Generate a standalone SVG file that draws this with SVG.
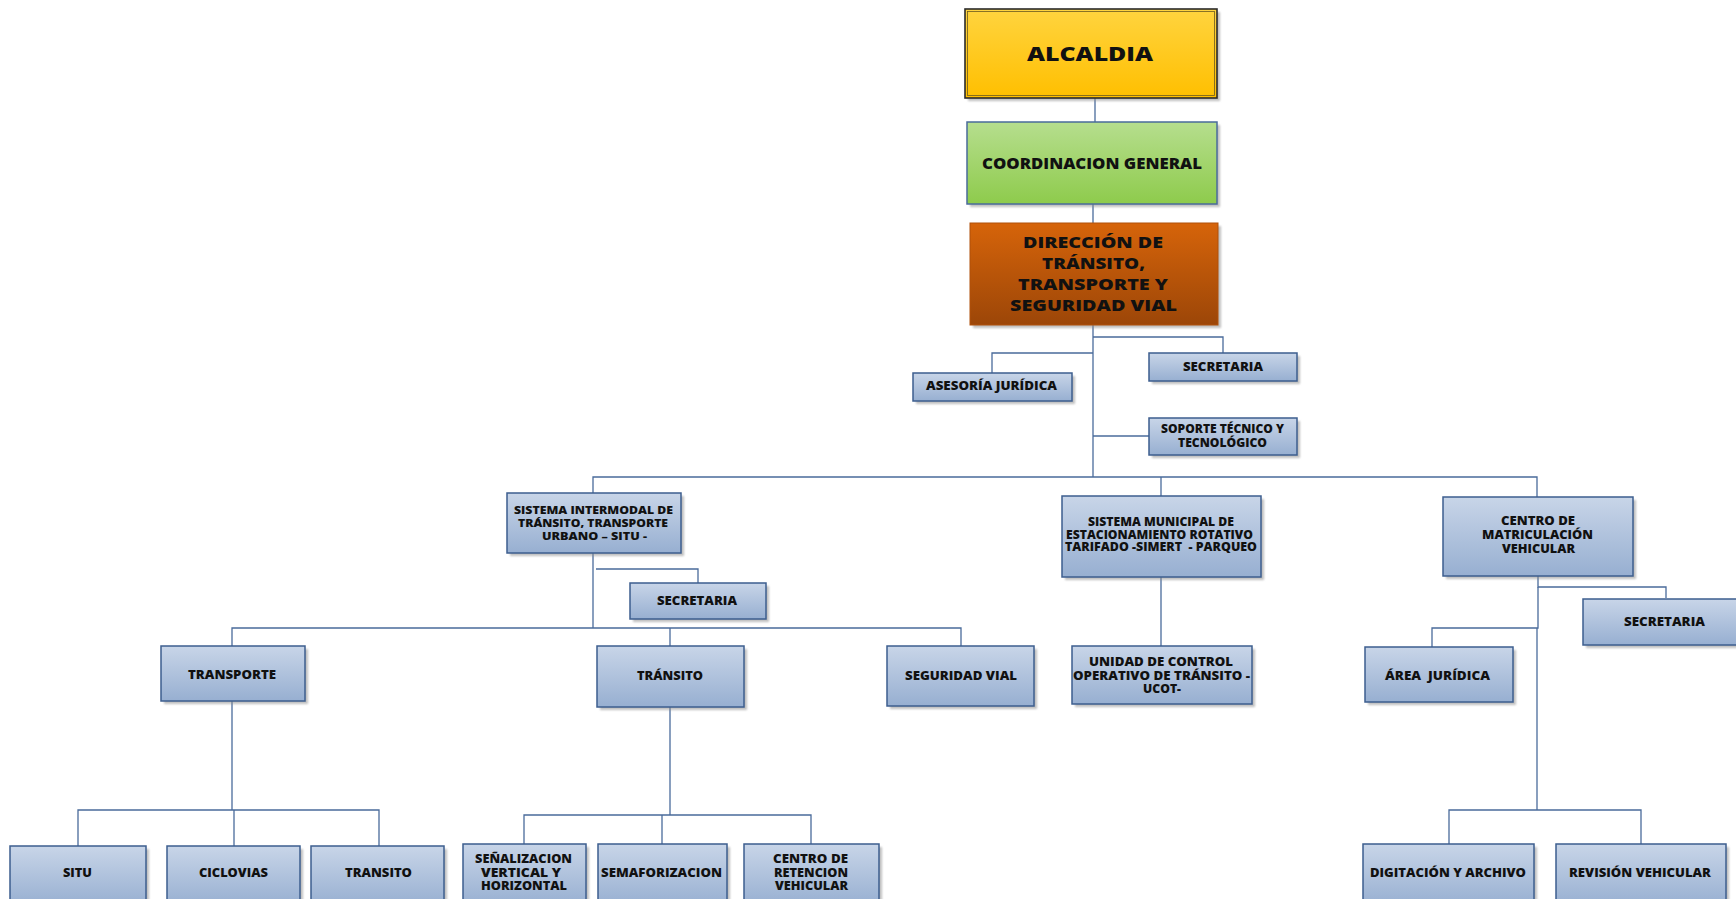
<svg xmlns="http://www.w3.org/2000/svg" width="1736" height="899" viewBox="0 0 1736 899">
  <defs>
    <linearGradient id="gBlue" x1="0" y1="0" x2="0" y2="1">
      <stop offset="0" stop-color="#c8d5e8"/>
      <stop offset="1" stop-color="#97afd1"/>
    </linearGradient>
    <linearGradient id="gGold" x1="0" y1="0" x2="0" y2="1">
      <stop offset="0" stop-color="#ffd43f"/>
      <stop offset="1" stop-color="#ffbf00"/>
    </linearGradient>
    <linearGradient id="gGreen" x1="0" y1="0" x2="0" y2="1">
      <stop offset="0" stop-color="#b6de8e"/>
      <stop offset="1" stop-color="#8ecb4c"/>
    </linearGradient>
    <linearGradient id="gRust" x1="0" y1="0" x2="0" y2="1">
      <stop offset="0" stop-color="#d6640a"/>
      <stop offset="1" stop-color="#9c4608"/>
    </linearGradient>
    <filter id="soft" x="-10%" y="-10%" width="130%" height="130%">
      <feGaussianBlur stdDeviation="1"/>
    </filter>
  </defs>
  <style>
    .shadow { fill: #8c8c8c; opacity: 0.55; filter: url(#soft); }
    .box { fill: url(#gBlue); stroke: #3d5e8e; stroke-width: 1.5; }
    .lbl { font-family: "Open Sans", "Liberation Sans", sans-serif; font-weight: 800; fill: #111; text-anchor: start; }
    .s9 { font-size: 10px; }
    .s11 { font-size: 11.5px; }
    .s12 { font-size: 12px; }
    .link { fill: none; stroke: #4a6b9b; stroke-width: 1.3; }
  </style>

  <rect width="1736" height="899" fill="#ffffff"/>

  <!-- connectors -->
  <g id="connectors" class="link">
    <path d="M1095 98 V122"/>
    <path d="M1093 204 V223"/>
    <path d="M1093 325 V477"/>
    <path d="M1093 337 H1223 V353"/>
    <path d="M1093 353 H992 V373"/>
    <path d="M1093 436 H1149"/>
    <path d="M593 493 V477 H1537 V497"/>
    <path d="M1161 477 V496"/>
    <path d="M593 553 V628"/>
    <path d="M596 569 H698 V583"/>
    <path d="M232 646 V628 H961 V646"/>
    <path d="M670 628 V646"/>
    <path d="M1161 577 V646"/>
    <path d="M1538 576 V587 H1666 V598"/>
    <path d="M1538 587 V628 H1432 V647"/>
    <path d="M1537 628 V810"/>
    <path d="M232 701 V810"/>
    <path d="M78 846 V810 H379 V846"/>
    <path d="M234 810 V846"/>
    <path d="M670 707 V815"/>
    <path d="M524 844 V815 H811 V844"/>
    <path d="M662 815 V844"/>
    <path d="M1449 844 V810 H1641 V844"/>
  </g>

  <!-- top level -->
  <g id="alcaldia">
    <rect class="shadow" x="968" y="12" width="252" height="89"/>
    <rect x="965" y="9" width="252" height="89" fill="url(#gGold)" stroke="#2b2b2b" stroke-width="1.6"/>
    <rect x="967.5" y="11.5" width="247" height="84" fill="none" stroke="#6b5a20" stroke-width="0.8"/>
    <text class="lbl" x="1027" y="60.5" font-size="20" textLength="126" lengthAdjust="spacingAndGlyphs">ALCALDIA</text>
  </g>

  <g id="coordinacion">
    <rect class="shadow" x="970" y="125" width="250" height="82"/>
    <rect x="967" y="122" width="250" height="82" fill="url(#gGreen)" stroke="#4a6b9b" stroke-width="1.5"/>
    <text class="lbl" x="982" y="168.5" font-size="16.5" textLength="220" lengthAdjust="spacingAndGlyphs">COORDINACION GENERAL</text>
  </g>

  <g id="direccion">
    <rect class="shadow" x="973" y="226" width="248" height="102"/>
    <rect x="970" y="223" width="248" height="102" fill="url(#gRust)" stroke="#b0500a" stroke-width="1"/>
    <text class="lbl" font-size="16.5">
      <tspan x="1023" y="247.5" textLength="140" lengthAdjust="spacingAndGlyphs">DIRECCIÓN DE</tspan>
      <tspan x="1042" y="269" textLength="103" lengthAdjust="spacingAndGlyphs">TRÁNSITO,</tspan>
      <tspan x="1018" y="290" textLength="150" lengthAdjust="spacingAndGlyphs">TRANSPORTE Y</tspan>
      <tspan x="1010" y="311" textLength="167" lengthAdjust="spacingAndGlyphs">SEGURIDAD VIAL</tspan>
    </text>
  </g>

  <!-- staff units -->
  <g id="asesoria">
    <rect class="shadow" x="916" y="376" width="159" height="28"/>
    <rect class="box" x="913" y="373" width="159" height="28"/>
    <text class="lbl s11" x="926" y="389.5" textLength="131" lengthAdjust="spacingAndGlyphs">ASESORÍA JURÍDICA</text>
  </g>

  <g id="secretaria-dir">
    <rect class="shadow" x="1152" y="356" width="148" height="28"/>
    <rect class="box" x="1149" y="353" width="148" height="28"/>
    <text class="lbl s11" x="1183" y="370.5" textLength="80" lengthAdjust="spacingAndGlyphs">SECRETARIA</text>
  </g>

  <g id="soporte">
    <rect class="shadow" x="1152" y="421" width="148" height="37"/>
    <rect class="box" x="1149" y="418" width="148" height="37"/>
    <text class="lbl s11">
      <tspan x="1161" y="433" textLength="123" lengthAdjust="spacingAndGlyphs">SOPORTE TÉCNICO Y</tspan>
      <tspan x="1178" y="446.5" textLength="89" lengthAdjust="spacingAndGlyphs">TECNOLÓGICO</tspan>
    </text>
  </g>

  <!-- second level -->
  <g id="situ">
    <rect class="shadow" x="510" y="496" width="174" height="60"/>
    <rect class="box" x="507" y="493" width="174" height="60"/>
    <text class="lbl s9">
      <tspan x="514" y="514" textLength="159" lengthAdjust="spacingAndGlyphs">SISTEMA INTERMODAL DE</tspan>
      <tspan x="518" y="527" textLength="150" lengthAdjust="spacingAndGlyphs">TRÁNSITO, TRANSPORTE</tspan>
      <tspan x="542" y="539.5" textLength="105" lengthAdjust="spacingAndGlyphs">URBANO – SITU -</tspan>
    </text>
  </g>

  <g id="secretaria-situ">
    <rect class="shadow" x="633" y="586" width="136" height="36"/>
    <rect class="box" x="630" y="583" width="136" height="36"/>
    <text class="lbl s11" x="657" y="604.5" textLength="80" lengthAdjust="spacingAndGlyphs">SECRETARIA</text>
  </g>

  <g id="simert">
    <rect class="shadow" x="1065" y="499" width="199" height="81"/>
    <rect class="box" x="1062" y="496" width="199" height="81"/>
    <text class="lbl s11" xml:space="preserve"><tspan x="1088" y="526" textLength="146" lengthAdjust="spacingAndGlyphs">SISTEMA MUNICIPAL DE</tspan><tspan x="1066" y="538.5" textLength="187" lengthAdjust="spacingAndGlyphs">ESTACIONAMIENTO ROTATIVO</tspan><tspan x="1065" y="551" textLength="192" lengthAdjust="spacingAndGlyphs">TARIFADO -SIMERT  - PARQUEO</tspan></text>
  </g>

  <g id="matriculacion">
    <rect class="shadow" x="1446" y="500" width="190" height="79"/>
    <rect class="box" x="1443" y="497" width="190" height="79"/>
    <text class="lbl s11">
      <tspan x="1501" y="525" textLength="74" lengthAdjust="spacingAndGlyphs">CENTRO DE</tspan>
      <tspan x="1482" y="539" textLength="111" lengthAdjust="spacingAndGlyphs">MATRICULACIÓN</tspan>
      <tspan x="1502" y="553" textLength="73" lengthAdjust="spacingAndGlyphs">VEHICULAR</tspan>
    </text>
  </g>

  <g id="secretaria-cmv">
    <rect class="shadow" x="1586" y="602" width="160" height="46"/>
    <rect class="box" x="1583" y="599" width="160" height="46"/>
    <text class="lbl s11" x="1624" y="626" textLength="81" lengthAdjust="spacingAndGlyphs">SECRETARIA</text>
  </g>

  <!-- third level -->
  <g id="transporte">
    <rect class="shadow" x="164" y="649" width="144" height="55"/>
    <rect class="box" x="161" y="646" width="144" height="55"/>
    <text class="lbl s11" x="188" y="678.5" textLength="88" lengthAdjust="spacingAndGlyphs">TRANSPORTE</text>
  </g>

  <g id="transito">
    <rect class="shadow" x="600" y="649" width="147" height="61"/>
    <rect class="box" x="597" y="646" width="147" height="61"/>
    <text class="lbl s11" x="637" y="680" textLength="66" lengthAdjust="spacingAndGlyphs">TRÁNSITO</text>
  </g>

  <g id="seguridad-vial">
    <rect class="shadow" x="890" y="649" width="147" height="60"/>
    <rect class="box" x="887" y="646" width="147" height="60"/>
    <text class="lbl s11" x="905" y="680" textLength="112" lengthAdjust="spacingAndGlyphs">SEGURIDAD VIAL</text>
  </g>

  <g id="ucot">
    <rect class="shadow" x="1075" y="649" width="180" height="58"/>
    <rect class="box" x="1072" y="646" width="180" height="58"/>
    <text class="lbl s11">
      <tspan x="1089" y="666" textLength="144" lengthAdjust="spacingAndGlyphs">UNIDAD DE CONTROL</tspan>
      <tspan x="1073" y="679.5" textLength="177" lengthAdjust="spacingAndGlyphs">OPERATIVO DE TRÁNSITO -</tspan>
      <tspan x="1143" y="693" textLength="38" lengthAdjust="spacingAndGlyphs">UCOT-</tspan>
    </text>
  </g>

  <g id="area-juridica">
    <rect class="shadow" x="1368" y="650" width="148" height="55"/>
    <rect class="box" x="1365" y="647" width="148" height="55"/>
    <text class="lbl s11" x="1385" y="679.5" textLength="105" lengthAdjust="spacingAndGlyphs" xml:space="preserve">ÁREA  JURÍDICA</text>
  </g>

  <!-- fourth level -->
  <g id="situ-op">
    <rect class="shadow" x="13" y="849" width="136" height="60"/>
    <rect class="box" x="10" y="846" width="136" height="60"/>
    <text class="lbl s12" x="63" y="877" textLength="29" lengthAdjust="spacingAndGlyphs">SITU</text>
  </g>

  <g id="ciclovias">
    <rect class="shadow" x="170" y="849" width="133" height="60"/>
    <rect class="box" x="167" y="846" width="133" height="60"/>
    <text class="lbl s12" x="199" y="876.5" textLength="69" lengthAdjust="spacingAndGlyphs">CICLOVIAS</text>
  </g>

  <g id="transito-op">
    <rect class="shadow" x="314" y="849" width="133" height="60"/>
    <rect class="box" x="311" y="846" width="133" height="60"/>
    <text class="lbl s12" x="345" y="876.5" textLength="67" lengthAdjust="spacingAndGlyphs">TRANSITO</text>
  </g>

  <g id="senalizacion">
    <rect class="shadow" x="466" y="847" width="123" height="62"/>
    <rect class="box" x="463" y="844" width="123" height="62"/>
    <text class="lbl s11">
      <tspan x="475" y="863" textLength="97" lengthAdjust="spacingAndGlyphs">SEÑALIZACION</tspan>
      <tspan x="481" y="876.5" textLength="80" lengthAdjust="spacingAndGlyphs">VERTICAL Y</tspan>
      <tspan x="481" y="890" textLength="86" lengthAdjust="spacingAndGlyphs">HORIZONTAL</tspan>
    </text>
  </g>

  <g id="semaforizacion">
    <rect class="shadow" x="601" y="847" width="129" height="62"/>
    <rect class="box" x="598" y="844" width="129" height="62"/>
    <text class="lbl s11" x="601" y="876.5" textLength="121" lengthAdjust="spacingAndGlyphs">SEMAFORIZACION</text>
  </g>

  <g id="retencion">
    <rect class="shadow" x="747" y="847" width="135" height="62"/>
    <rect class="box" x="744" y="844" width="135" height="62"/>
    <text class="lbl s11">
      <tspan x="773" y="863" textLength="75" lengthAdjust="spacingAndGlyphs">CENTRO DE</tspan>
      <tspan x="774" y="876.5" textLength="74" lengthAdjust="spacingAndGlyphs">RETENCION</tspan>
      <tspan x="775" y="890" textLength="73" lengthAdjust="spacingAndGlyphs">VEHICULAR</tspan>
    </text>
  </g>

  <g id="digitacion">
    <rect class="shadow" x="1366" y="847" width="171" height="62"/>
    <rect class="box" x="1363" y="844" width="171" height="62"/>
    <text class="lbl s11" x="1370" y="876.5" textLength="156" lengthAdjust="spacingAndGlyphs">DIGITACIÓN Y ARCHIVO</text>
  </g>

  <g id="revision">
    <rect class="shadow" x="1559" y="847" width="170" height="62"/>
    <rect class="box" x="1556" y="844" width="170" height="62"/>
    <text class="lbl s11" x="1569" y="876.5" textLength="142" lengthAdjust="spacingAndGlyphs">REVISIÓN VEHICULAR</text>
  </g>
</svg>
